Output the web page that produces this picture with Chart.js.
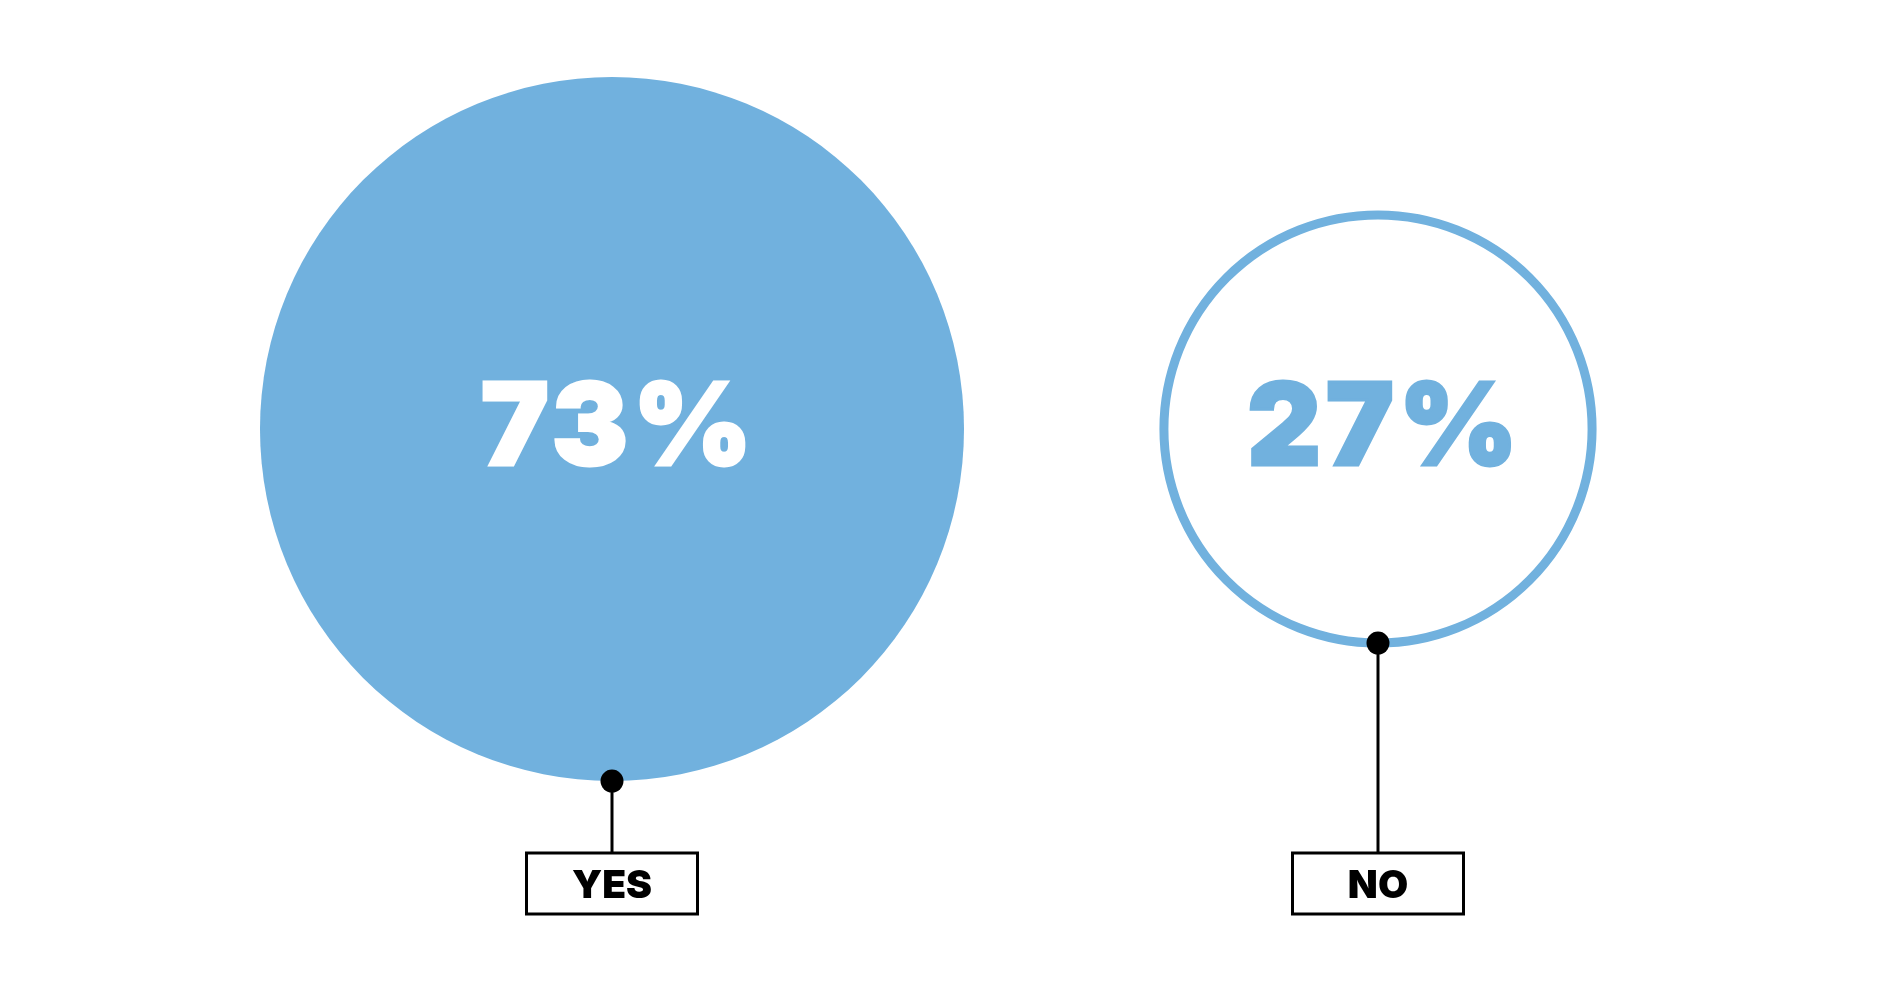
<!DOCTYPE html>
<html>
<head>
<meta charset="utf-8">
<script src="https://cdn.jsdelivr.net/npm/chart.js@4.4.1/dist/chart.umd.min.js"></script>
<style>
  html, body { margin: 0; padding: 0; background: #fff; }
  #wrap { width: 1886px; height: 1001px; position: relative; }
</style>
</head>
<body>
<div id="wrap"><canvas id="bubbleChart"></canvas></div>
<script>
// answers and their share in percent
const answers = ["YES", "NO"];
const percents = [73, 27];
const filled = [true, false];

const blue = "#71b1de";
const radiusPerUnit = 41.2; // bubble area is proportional to percent

const points = answers.map((a, i) => ({ x: a, y: 0, r: radiusPerUnit * Math.sqrt(percents[i]) }));

// draws the percentage text and the pin + label box under each bubble
const labelPlugin = {
  id: "labels",
  afterDatasetsDraw(chart) {
    const ctx = chart.ctx;
    const meta = chart.getDatasetMeta(0);
    const boxTop = 853, boxW = 171, boxH = 61;
    meta.data.forEach((el, i) => {
      const r = points[i].r;
      ctx.save();
      // percentage, stroked a bit to get the heavy look
      const col = filled[i] ? "#fff" : blue;
      ctx.font = "900 114px Inter";
      ctx.textAlign = "center";
      ctx.textBaseline = "alphabetic";
      ctx.letterSpacing = "5px";
      ctx.fillStyle = col;
      ctx.strokeStyle = col;
      ctx.lineWidth = 3;
      ctx.lineJoin = "miter";
      ctx.fillText(percents[i] + "%", el.x + 7, el.y + 36);
      ctx.strokeText(percents[i] + "%", el.x + 7, el.y + 36);
      ctx.letterSpacing = "0px";

      // pin line
      const dotY = el.y + r;
      ctx.strokeStyle = "#000";
      ctx.lineWidth = 3;
      ctx.beginPath();
      ctx.moveTo(el.x, dotY);
      ctx.lineTo(el.x, boxTop);
      ctx.stroke();
      // dot
      ctx.fillStyle = "#000";
      ctx.beginPath();
      ctx.arc(el.x, dotY, 11.5, 0, Math.PI * 2);
      ctx.fill();
      // label box
      ctx.fillStyle = "#fff";
      ctx.fillRect(el.x - boxW / 2, boxTop, boxW, boxH);
      ctx.strokeRect(el.x - boxW / 2, boxTop, boxW, boxH);
      ctx.fillStyle = "#000";
      ctx.font = "900 39px Inter";
      ctx.fillText(answers[i], el.x, boxTop + 45);
      ctx.restore();
    });
  }
};

new Chart(document.getElementById("bubbleChart"), {
  type: "bubble",
  data: {
    labels: answers,
    datasets: [{
      data: points,
      backgroundColor: filled.map(f => f ? blue : "#fff"),
      borderColor: blue,
      borderWidth: filled.map(f => f ? 0 : 9),
      clip: false
    }]
  },
  options: {
    responsive: true,
    maintainAspectRatio: false,
    animation: false,
    events: [],
    layout: { autoPadding: false, padding: { left: 229, right: 125, top: 0, bottom: 143 } },
    scales: {
      x: { type: "category", offset: true, display: false },
      y: { min: -1, max: 1, display: false }
    },
    plugins: {
      legend: { display: false },
      tooltip: { enabled: false }
    }
  },
  plugins: [labelPlugin]
});
</script>
</body>
</html>
